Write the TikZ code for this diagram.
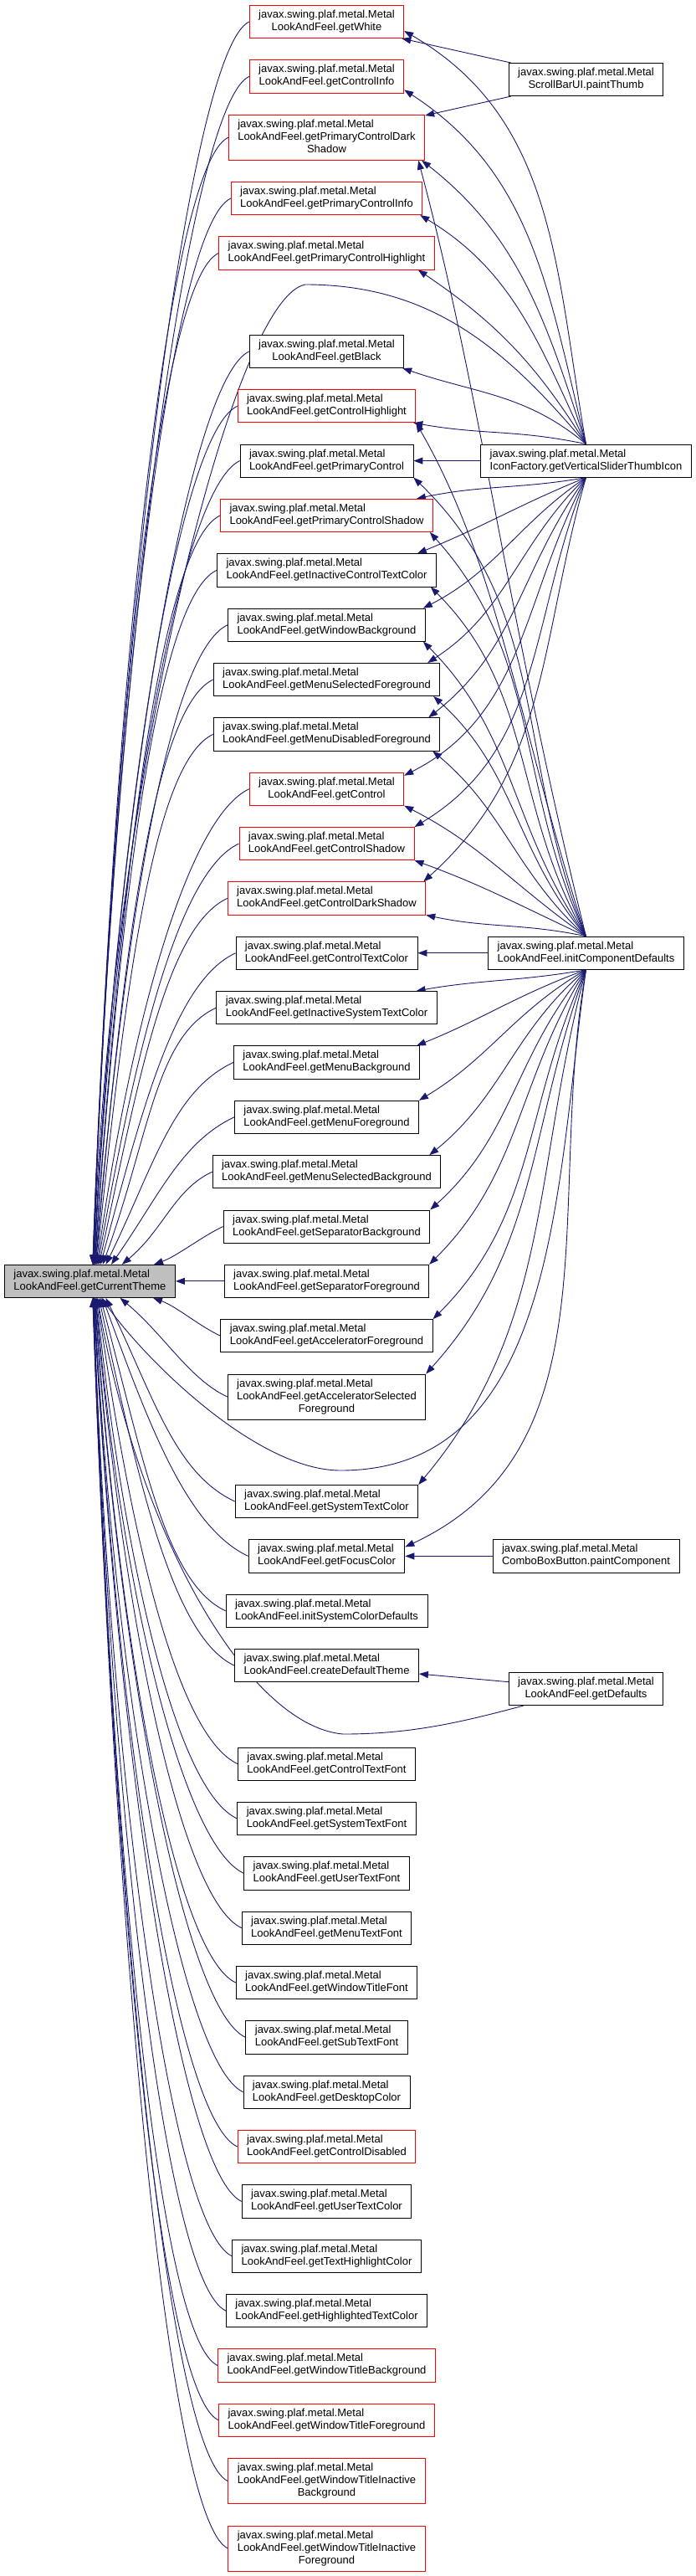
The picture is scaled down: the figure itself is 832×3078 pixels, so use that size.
\documentclass[tikz,border=0pt]{standalone}
\usepackage{fontspec}
\setmainfont{Liberation Sans}
\usepackage{xcolor}
\usepackage{tikz}
\usetikzlibrary{arrows.meta,positioning,backgrounds}
\definecolor{edgeblue}{HTML}{191970}
\definecolor{rootgray}{HTML}{BFBFBF}
\newcommand{\dlabel}[2]{\begin{tabular}{@{}l@{}}#1\\\multicolumn{1}{@{}c@{}}{#2}\end{tabular}}
\newcommand{\mlf}[1]{\dlabel{javax.swing.plaf.metal.Metal}{LookAndFeel.#1}}

\begin{document}
\begin{tikzpicture}[
  x=1pt, y=1pt,
  node distance=25.35pt,
  box/.style={draw=black, fill=white, line width=0.8pt, inner xsep=11pt, inner ysep=2pt, minimum height=39.2pt, font=\fontsize{13}{15}\selectfont},
  redbox/.style={box, draw=red},
  tall/.style={minimum height=54.2pt},
  root/.style={box, fill=rootgray},
  edge/.style={draw=edgeblue, line width=0.9pt, -{Triangle[length=11pt,width=8pt]}}
]
\useasboundingbox (0,0) rectangle (832,-3078);

% middle column
\node[redbox] (getwhite) at (390.5,-26) {\mlf{getWhite}};
\node[redbox, below=of getwhite] (ctrlinfo) {\mlf{getControlInfo}};
\node[redbox, tall, below=of ctrlinfo] (pcds) {\dlabel{javax.swing.plaf.metal.Metal\\LookAndFeel.getPrimaryControlDark}{Shadow}};
\node[redbox, below=of pcds] (pcinfo) {\mlf{getPrimaryControlInfo}};
\node[redbox, below=of pcinfo] (pchigh) {\mlf{getPrimaryControlHighlight}};
\node[box, below=77.5pt of pchigh] (getblack) {\mlf{getBlack}};
\node[redbox, below=of getblack] (chigh) {\mlf{getControlHighlight}};
\node[box, below=of chigh] (pctrl) {\mlf{getPrimaryControl}};
\node[redbox, below=of pctrl] (pcshadow) {\mlf{getPrimaryControlShadow}};
\node[box, below=of pcshadow] (ictc) {\mlf{getInactiveControlTextColor}};
\node[box, below=of ictc] (winbg) {\mlf{getWindowBackground}};
\node[box, below=of winbg] (menuselfg) {\mlf{getMenuSelectedForeground}};
\node[box, below=of menuselfg] (menudisfg) {\mlf{getMenuDisabledForeground}};
\node[redbox, below=of menudisfg] (control) {\mlf{getControl}};
\node[redbox, below=of control] (cshadow) {\mlf{getControlShadow}};
\node[redbox, below=of cshadow] (cdshadow) {\mlf{getControlDarkShadow}};
\node[box, below=of cdshadow] (ctextcolor) {\mlf{getControlTextColor}};
\node[box, below=of ctextcolor] (istc) {\mlf{getInactiveSystemTextColor}};
\node[box, below=of istc] (menubg) {\mlf{getMenuBackground}};
\node[box, below=of menubg] (menufg) {\mlf{getMenuForeground}};
\node[box, below=of menufg] (menuselbg) {\mlf{getMenuSelectedBackground}};
\node[box, below=of menuselbg] (sepbg) {\mlf{getSeparatorBackground}};
\node[box, below=of sepbg] (sepfg) {\mlf{getSeparatorForeground}};
\node[box, below=of sepfg] (accfg) {\mlf{getAcceleratorForeground}};
\node[box, tall, below=of accfg] (accselfg) {\dlabel{javax.swing.plaf.metal.Metal\\LookAndFeel.getAcceleratorSelected}{Foreground}};
\node[box, below=77.5pt of accselfg] (systc) {\mlf{getSystemTextColor}};
\node[box, below=of systc] (focus) {\mlf{getFocusColor}};
\node[box, below=of focus] (initsys) {\mlf{initSystemColorDefaults}};
\node[box, below=of initsys] (createdef) {\mlf{createDefaultTheme}};
\node[box, below=77.5pt of createdef] (ctfont) {\mlf{getControlTextFont}};
\node[box, below=of ctfont] (stfont) {\mlf{getSystemTextFont}};
\node[box, below=of stfont] (utfont) {\mlf{getUserTextFont}};
\node[box, below=of utfont] (mtfont) {\mlf{getMenuTextFont}};
\node[box, below=of mtfont] (wtfont) {\mlf{getWindowTitleFont}};
\node[box, below=of wtfont] (subfont) {\mlf{getSubTextFont}};
\node[box, below=of subfont] (desktop) {\mlf{getDesktopColor}};
\node[redbox, below=of desktop] (cdisabled) {\mlf{getControlDisabled}};
\node[box, below=of cdisabled] (utcolor) {\mlf{getUserTextColor}};
\node[box, below=of utcolor] (thcolor) {\mlf{getTextHighlightColor}};
\node[box, below=of thcolor] (htcolor) {\mlf{getHighlightedTextColor}};
\node[redbox, below=of htcolor] (wtbg) {\mlf{getWindowTitleBackground}};
\node[redbox, below=of wtbg] (wtfg) {\mlf{getWindowTitleForeground}};
\node[redbox, tall, below=of wtfg] (wtibg) {\dlabel{javax.swing.plaf.metal.Metal\\LookAndFeel.getWindowTitleInactive}{Background}};
\node[redbox, tall, below=of wtibg] (wtifg) {\dlabel{javax.swing.plaf.metal.Metal\\LookAndFeel.getWindowTitleInactive}{Foreground}};

% root and callers on the right
\coordinate (lcol) at (5,0);
\coordinate (rcol) at (700.5,0);
\node[root, anchor=west] (theme) at (lcol |- sepfg) {\mlf{getCurrentTheme}};
\node[box] (thumb) at (700.5,-95) {\dlabel{javax.swing.plaf.metal.Metal}{ScrollBarUI.paintThumb}};
\node[box] (slider) at (rcol |- pctrl) {\dlabel{javax.swing.plaf.metal.Metal}{IconFactory.getVerticalSliderThumbIcon}};
\node[box] (initcd) at (rcol |- ctextcolor) {\mlf{initComponentDefaults}};
\node[box] (combo) at (rcol |- focus) {\dlabel{javax.swing.plaf.metal.Metal}{ComboBoxButton.paintComponent}};
\node[box] (defaults) at (700.5,-2018) {\mlf{getDefaults}};
\coordinate (ifpeak) at (365,-340);
\coordinate (cdip) at (407,-1757);
\coordinate (ddip) at (410,-2072);

\begin{scope}[on background layer]
\fill[white] (0,0) rectangle (832,-3078);
% callers of getCurrentTheme, above and below it
\foreach \src/\ang/\dout/\din/\dx in {getwhite/88/80/752/3.3, ctrlinfo/88/80/720/3.5, pcds/88/80/683/3.7, pcinfo/88/80/646/3.9, pchigh/88/80/614/4.1, getblack/87/80/555/4.5, chigh/87/80/522/4.8, pctrl/87/80/490/5.1, pcshadow/86/80/457/5.5, ictc/86/80/424/5.9, winbg/85/80/392/6.4, menuselfg/85/80/359/7, menudisfg/84/80/326/7.7, control/82/80/294/8.5, cshadow/80/80/261/9.5, cdshadow/78/80/228/11, ctextcolor/75/80/196/12.7, istc/70/80/163/15.3, menubg/64/80/131/19.1, menufg/55/70/98/25.5, menuselbg/40/50/65/38.4, sepbg/20/28/30/76.6}
  \draw[edge] (\src.west) .. controls +(205:\dout pt) and +(\ang:\din pt) .. ([xshift=\dx pt]theme.north);
\draw[edge] (sepfg) -- (theme);
\foreach \src/\ang/\dout/\din/\dx in {accfg/-20/28/30/75.5, accselfg/-40/50/69/36.1, systc/-64/80/131/19, focus/-70/80/164/15.2, initsys/-75/80/196/12.7, createdef/-78/80/229/10.9, ctfont/-82/80/288/8.7, stfont/-84/80/320/7.8, utfont/-85/80/353/7.1, mtfont/-85/80/386/6.5, wtfont/-86/80/418/6, subfont/-86/80/451/5.5, desktop/-87/80/484/5.2, cdisabled/-87/80/516/4.8, utcolor/-87/80/550/4.5, thcolor/-88/80/582/4.3, htcolor/-88/80/615/4.1, wtbg/-88/80/647/3.9, wtfg/-88/80/680/3.7, wtibg/-88/80/716/3.5, wtifg/-88/80/756/3.3}
  \draw[edge] (\src.west) .. controls +(155:\dout pt) and +(\ang:\din pt) .. ([xshift=\dx pt]theme.south);

\draw[edge] (thumb) -- (getwhite);
\draw[edge] (thumb) -- (pcds);

% getVerticalSliderThumbIcon
\foreach \dst/\anc/\sx/\sy/\o/\i/\d in {getwhite/east/0/-11/100/-30/210, ctrlinfo/east/0/-16/104/-33/185, pcds/south east/-4/0/108/-38/150, pcinfo/south east/-3/0/115/-31/130, pchigh/south east/-20/0/122/-34/113, getblack/south east/-2/0/140/-19/93, chigh/south east/-3/0/168/-10/85}
  \draw[edge] (slider.north) .. controls +(\o:\d pt) and +(\i:\d pt) .. ([xshift=\sx pt, yshift=\sy pt]\dst.\anc);
\foreach \dst/\anc/\sx/\sy/\o/\i/\d in {pcshadow/north east/-20/0/-170/12/80, ictc/north east/-23/0/-158/22/87, winbg/north east/-3/0/-146/27/98, menuselfg/north east/-15/0/-136/33/114, menudisfg/north east/-14/0/-126/38/135, control/east/0/16/-118/27/163, cshadow/north east/0/0/-112/31/181, cdshadow/north east/-3/0/-106/42/203}
  \draw[edge] (slider.south) .. controls +(\o:\d pt) and +(\i:\d pt) .. ([xshift=\sx pt, yshift=\sy pt]\dst.\anc);
\draw[edge] (slider) -- (pctrl);
\draw[edge] (slider.north) .. controls +(130:150pt) and +(0:150pt) .. (ifpeak)
  .. controls +(190:90pt) and +(88:560pt) .. ([xshift=4.3pt]theme.north);

% initComponentDefaults
\foreach \dst/\sx/\o/\i/\da/\db in {pcds/-8/104/-75/380/290, chigh/0/108/-60/250/200, pctrl/0/112/-44/228/228, pcshadow/-4/115/-48/200/200, ictc/-7/120/-45/178/178, winbg/-3/125/-45/157/157, menuselfg/-8/130/-42/132/132, menudisfg/-9/138/-40/112/112, control/0/145/-27/104/104, cshadow/0/155/-20/88/88, cdshadow/0/168/-12/76/76}
  \draw[edge] (initcd.north) .. controls +(\o:\da pt) and +(\i:\db pt) .. ([xshift=\sx pt]\dst.south east);
\draw[edge] (initcd) -- (ctextcolor);
\foreach \dst/\anc/\sx/\sy/\o/\i/\d in {istc/north east/-25/0/-170/10/80, menubg/north east/-4/0/-160/22/87, menufg/north east/0/0/-150/31/99, menuselbg/north east/-14/0/-140/39/113, sepbg/north east/0/0/-130/42/134, sepfg/north east/0/0/-122/45/156, accfg/north east/0/0/-115/45/178, accselfg/north east/0/0/-110/48/203, systc/north east/0/0/-105/50/250, focus/east/0/11/-100/25/280}
  \draw[edge] (initcd.south) .. controls +(\o:\d pt) and +(\i:\d pt) .. ([xshift=\sx pt, yshift=\sy pt]\dst.\anc);
\draw[edge] (initcd.south) .. controls +(-98:260pt) and +(0:260pt) .. (cdip)
  .. controls +(180:100pt) and +(-55:90pt) .. ([xshift=14pt]theme.south);

\draw[edge] (combo) -- (focus);
\draw[edge] (defaults) -- (createdef);
\draw[edge] ([xshift=18pt]defaults.south west) .. controls +(195:80pt) and +(0:80pt) .. (ddip)
  .. controls +(175:110pt) and +(-80:300pt) .. ([xshift=9pt]theme.south);
\end{scope}
\end{tikzpicture}
\end{document}
